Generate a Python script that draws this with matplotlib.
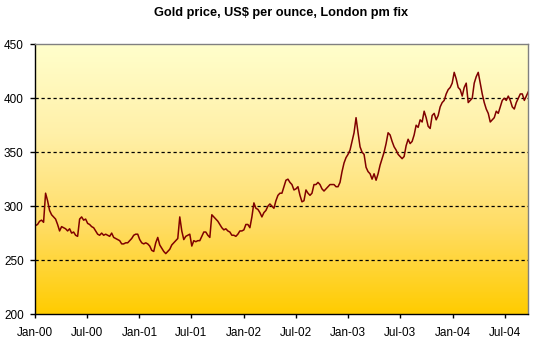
"""Gold price chart, London pm fix, weekly readings 2000-2004."""

import matplotlib
matplotlib.use("Agg")
import matplotlib.pyplot as plt
from matplotlib.colors import LinearSegmentedColormap
import numpy as np
import pandas as pd

plt.rcParams["font.family"] = ["Liberation Sans", "DejaVu Sans"]

# weekly prices (US$/oz), starting first week of Jan 2000
prices_2000 = [282, 283, 286, 287, 285, 312, 305, 296, 292, 290,
               288, 283, 277, 281, 280, 279, 277, 279, 275, 276,
               273, 272, 288, 290, 287, 288, 284, 283, 281, 280,
               277, 274, 273, 275, 273, 274, 273, 272, 275, 271,
               270, 269, 268, 265, 265, 266, 266, 268, 270, 273,
               274, 274]
prices_2001 = [269, 266, 265, 266, 265, 263, 259, 258, 266, 271,
               264, 261, 258, 256, 258, 260, 264, 266, 268, 270,
               290, 277, 269, 272, 273, 274, 263, 268, 267, 268,
               268, 272, 276, 276, 273, 271, 292, 290, 288, 286,
               283, 280, 278, 279, 277, 276, 273, 273, 272, 274,
               277, 277]
prices_2002 = [278, 283, 283, 280, 290, 303, 298, 297, 294, 290,
               294, 296, 300, 302, 300, 298, 305, 310, 312, 312,
               318, 324, 325, 322, 320, 315, 316, 318, 310, 304,
               305, 315, 312, 310, 312, 320, 320, 322, 320, 316,
               314, 316, 318, 320, 320, 320, 318, 318, 322, 332,
               340, 345]
prices_2003 = [348, 352, 360, 368, 382, 368, 355, 350, 348, 336,
               332, 330, 325, 330, 324, 330, 338, 344, 350, 358,
               368, 366, 360, 355, 352, 348, 346, 344, 346, 356,
               362, 358, 360, 366, 375, 373, 380, 378, 388, 382,
               374, 372, 384, 386, 380, 384, 392, 396, 398, 404,
               408, 410, 414]
prices_2004 = [424, 418, 410, 408, 402, 410, 414, 396, 398, 400,
               414, 420, 424, 414, 404, 396, 390, 386, 378, 380,
               382, 388, 386, 392, 398, 400, 398, 402, 398, 392,
               390, 396, 400, 404, 404, 398, 402, 406]

prices = prices_2000 + prices_2001 + prices_2002 + prices_2003 + prices_2004
dates = pd.date_range("2000-01-04", periods=len(prices), freq="7D")

tick_dates = pd.date_range("2000-01-01", "2004-07-01", freq="6MS")
tick_labels = [d.strftime("%b-%y") for d in tick_dates]
y_ticks = [200, 250, 300, 350, 400, 450]
grid_levels = [250, 300, 350, 400]

fig = plt.figure(figsize=(5.33, 3.39), dpi=100)
ax = fig.add_axes([0.0651, 0.0737, 0.9261, 0.7956])

# gradient background: pale yellow at top to gold at bottom
cmap = LinearSegmentedColormap.from_list(
    "goldfade", ["#FFCC00", "#FFDD66", "#FFF0A8", "#FFFFCC"])
grad = np.linspace(0, 1, 256).reshape(-1, 1)
ax.imshow(grad, cmap=cmap, aspect="auto", origin="lower",
          extent=[0, 1, 0, 1], transform=ax.transAxes, zorder=0)

for lvl in grid_levels:
    ax.axhline(lvl, color="black", lw=0.9, dashes=(2.6, 2.2), zorder=1)

ax.plot(dates, prices, color="#800000", lw=1.1, zorder=2)

ax.set_xlim(pd.Timestamp("2000-01-01"), pd.Timestamp("2004-09-21"))
ax.set_ylim(200, 450)
ax.set_xticks(tick_dates)
ax.set_xticklabels(tick_labels)
ax.set_yticks(y_ticks)
ax.tick_params(axis="x", length=3, width=1, pad=6.5, labelsize=8.5)
ax.tick_params(axis="y", length=3.4, width=1, pad=4.5, labelsize=8.5)

for side in ("left", "bottom"):
    ax.spines[side].set_color("black")
    ax.spines[side].set_linewidth(1)
for side in ("top", "right"):
    ax.spines[side].set_color("#808080")
    ax.spines[side].set_linewidth(1)

fig.text(0.528, 0.962, "Gold price, US$ per ounce, London pm fix",
         ha="center", va="center", fontsize=9.2, fontweight="bold")

fig.savefig("out.png", dpi=100)
plt.close(fig)
